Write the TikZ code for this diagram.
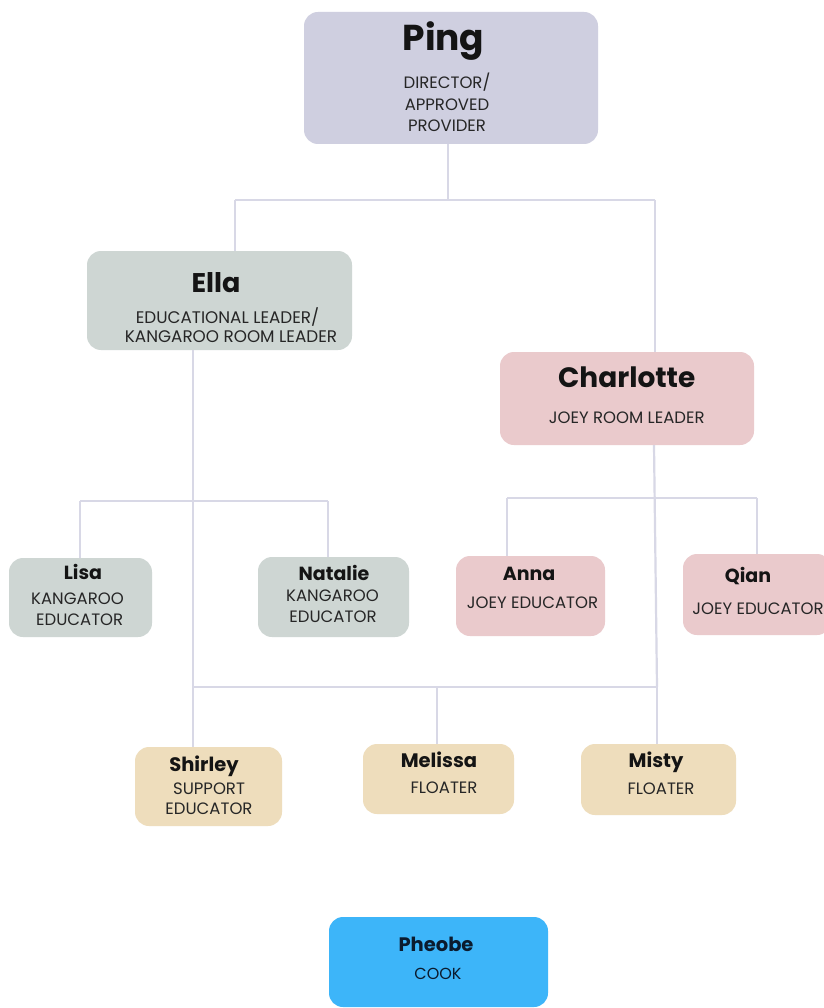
\documentclass[tikz,border=0pt]{standalone}
\usepackage{fontspec}
\setmainfont{Poppins}
\definecolor{linec}{HTML}{D8D8E6}
\definecolor{txt}{HTML}{141414}
\definecolor{subc}{HTML}{262626}
\definecolor{cping}{HTML}{CFCFE0}
\definecolor{cgreen}{HTML}{CED6D3}
\definecolor{cpink}{HTML}{EACACC}
\definecolor{cbeige}{HTML}{EEDDBC}
\definecolor{cblue}{HTML}{3DB5F9}
\definecolor{navy}{HTML}{0B1B2E}
\begin{document}
\begin{tikzpicture}[x=1pt,y=-1pt,
  box/.style={rectangle, rounded corners=14pt, draw=none, inner sep=0pt},
  conn/.style={draw=linec, line width=2.2pt},
  nm/.style={anchor=base, inner sep=0pt, text=txt, font=\bfseries\fontsize{#1}{#1}\selectfont},
  sub/.style={anchor=base, inner sep=0pt, text=subc, font=\fontsize{#1}{#1}\selectfont},
]
\path[use as bounding box, fill=white] (0,0) rectangle (823,1008);

% boxes
\node[box, fill=cping, minimum width=294pt, minimum height=132pt] (ping) at (451,78) {};
\node[box, fill=cgreen, minimum width=265pt, minimum height=99pt] (ella) at (219.5,300.5) {};
\node[box, fill=cpink, minimum width=254pt, minimum height=93pt] (charlotte) at (627,398.5) {};
\node[box, fill=cgreen, minimum width=143pt, minimum height=79pt] (lisa) at (80.5,597.5) {};
\node[box, fill=cgreen, minimum width=151pt, minimum height=80pt] (natalie) at (333.5,597) {};
\node[box, fill=cpink, minimum width=149pt, minimum height=80pt] (anna) at (530.5,596) {};
\node[box, fill=cpink, minimum width=148pt, minimum height=81pt] (qian) at (757,594.5) {};
\node[box, fill=cbeige, minimum width=147pt, minimum height=79pt] (shirley) at (208.5,786.5) {};
\node[box, fill=cbeige, minimum width=151pt, minimum height=70pt] (melissa) at (438.5,779) {};
\node[box, fill=cbeige, minimum width=155pt, minimum height=71pt] (misty) at (658.5,779.5) {};
\node[box, fill=cblue, minimum width=219pt, minimum height=90pt] (pheobe) at (438.5,962) {};

% texts
\node[nm=36] (tping) at (443.5,51) {Ping};
\node[sub=16.5] (sping1) at (447,89) {DIRECTOR/};
\node[sub=16.5] (sping2) at (447,111) {APPROVED};
\node[sub=16.5] (sping3) at (447,132) {PROVIDER};

\node[nm=27] (tella) at (216,292) {Ella};
\node[sub=16.8] (sella1) at (227.5,323) {EDUCATIONAL LEADER/};
\node[sub=16.8] (sella2) at (231,342) {KANGAROO ROOM LEADER};

\node[nm=28] (tcha) at (626.7,387) {Charlotte};
\node[sub=16.5] (scha) at (626.7,423) {JOEY ROOM LEADER};

\node[nm=19] (tlisa) at (83,579) {Lisa};
\node[sub=16.5] (slisa1) at (77.5,604) {KANGAROO};
\node[sub=16.5] (slisa2) at (79.7,625) {EDUCATOR};

\node[nm=19] (tnat) at (334,580) {Natalie};
\node[sub=16.5] (snat1) at (332.5,601) {KANGAROO};
\node[sub=16.5] (snat2) at (333,622) {EDUCATOR};

\node[nm=19] (tanna) at (529,580) {Anna};
\node[sub=16.5] (sanna) at (532.5,608) {JOEY EDUCATOR};

\node[nm=19] (tqian) at (748,582) {Qian};
\node[sub=16.5] (sqian) at (758,614) {JOEY EDUCATOR};

\node[nm=19.5] (tshir) at (204,771) {Shirley};
\node[sub=16.5] (sshir1) at (209,794) {SUPPORT};
\node[sub=16.5] (sshir2) at (209,814) {EDUCATOR};

\node[nm=19.5] (tmel) at (439,767) {Melissa};
\node[sub=16.5] (smel) at (444,793) {FLOATER};

\node[nm=19.5] (tmis) at (656,767) {Misty};
\node[sub=16.5] (smis) at (661,794) {FLOATER};

\node[nm=19.5, text=navy] (tphe) at (436,951) {Pheobe};
\node[sub=16, text=navy] (sphe) at (438,979) {COOK};

% connectors
\coordinate (j0) at (448,200);
\coordinate (jL) at (235,200);
\coordinate (jR) at (655,200);
\draw[conn] (ping.south -| j0) -- (j0);
\draw[conn] (jL) -- (jR);
\draw[conn] (jL) -- (jL |- ella.north);
\draw[conn] (jR) -- (jR |- charlotte.north);

\coordinate (kL) at (80,501);
\coordinate (kM) at (193,501);
\coordinate (kR) at (328,501);
\coordinate (bL) at (193,687);
\coordinate (bM) at (437,687);
\coordinate (bR) at (657,687);
\draw[conn] (kM |- ella.south) -- (bL);
\draw[conn] (kL) -- (kR);
\draw[conn] (kL) -- (kL |- lisa.north);
\draw[conn] (kR) -- (kR |- natalie.north);

\coordinate (cL) at (507,498);
\coordinate (cM) at (654,498);
\coordinate (cR) at (757,498);
\draw[conn] (cM |- charlotte.south) -- (bR);
\draw[conn] (cL) -- (cR);
\draw[conn] (cL) -- (cL |- anna.north);
\draw[conn] (cR) -- (cR |- qian.north);

\draw[conn] (bL) -- (bR);
\draw[conn] (bL) -- (bL |- shirley.north);
\draw[conn] (bM) -- (bM |- melissa.north);
\draw[conn] (bR) -- (bR |- misty.north);
\end{tikzpicture}
\end{document}
